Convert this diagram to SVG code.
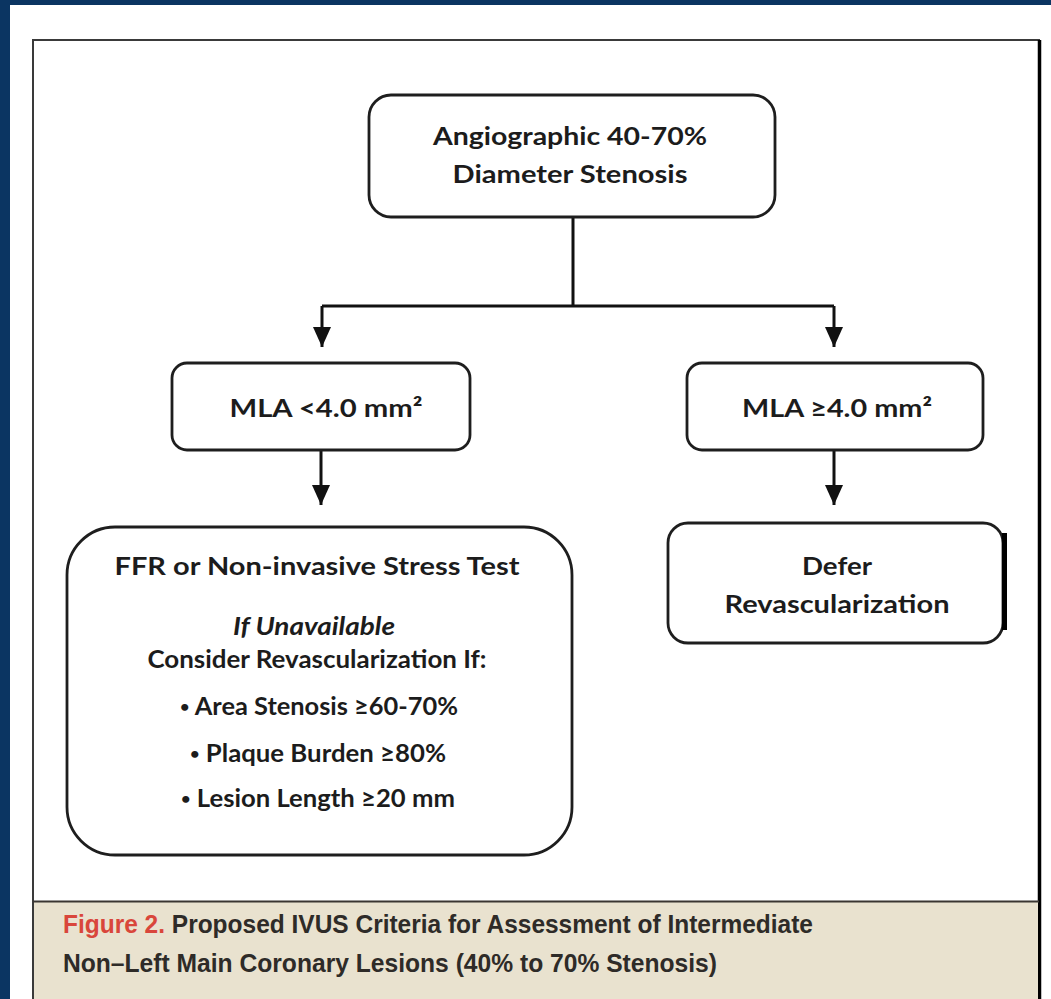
<svg xmlns="http://www.w3.org/2000/svg" width="1051" height="999" viewBox="0 0 1051 999">
<defs>
<style>
.box{fill:#fff;stroke:#1e1e1e;stroke-width:2.8}
.t{font-family:"Lato","Open Sans","Liberation Sans",sans-serif;font-weight:700;fill:#1c1c1c;text-anchor:middle;font-size:25px}
.ti{font-style:italic}
.b{font-size:16px}
.conn{stroke:#111;stroke-width:3;fill:none}
.cap{font-family:"Liberation Sans Narrow","Liberation Sans",Arial,sans-serif;font-weight:700;font-size:25px;fill:#2e2b28}
</style>
<marker id="ah" viewBox="0 0 20 18" refX="20" refY="9" markerWidth="20" markerHeight="18" markerUnits="userSpaceOnUse" orient="auto">
<path d="M0,0 L20,9 L0,18 Z" fill="#111"/>
</marker>
</defs>
<rect x="0" y="0" width="1051" height="999" fill="#0b3562"/>
<rect x="10" y="5" width="1041" height="994" fill="#fff"/>
<rect x="33" y="40" width="1006" height="961" fill="#fff" stroke="#3a3a3a" stroke-width="2"/>
<line x1="1039.5" y1="40" x2="1039.5" y2="999" stroke="#000" stroke-width="3.5"/>
<rect x="34" y="902" width="1004" height="97" fill="#e9e2cf"/>
<line x1="33" y1="901.5" x2="1039" y2="901.5" stroke="#3a3632" stroke-width="2"/>
<g id="caption">
<text class="cap" x="63" y="933" textLength="750" lengthAdjust="spacingAndGlyphs"><tspan fill="#d9463b">Figure 2.</tspan> Proposed IVUS Criteria for Assessment of Intermediate</text>
<text class="cap" x="63" y="972" textLength="654" lengthAdjust="spacingAndGlyphs">Non–Left Main Coronary Lesions (40% to 70% Stenosis)</text>
</g>
<g id="connectors">
<path class="conn" d="M573,217 V306 M322,306 H834"/>
<path class="conn" d="M322,306 V347" marker-end="url(#ah)"/>
<path class="conn" d="M834,306 V347" marker-end="url(#ah)"/>
<path class="conn" d="M321,450 V505" marker-end="url(#ah)"/>
<path class="conn" d="M834,450 V505" marker-end="url(#ah)"/>
</g>
<g id="n-angio">
<rect class="box" x="369" y="95" width="406" height="122" rx="22"/>
<text class="t" x="570" y="145" textLength="274" lengthAdjust="spacingAndGlyphs">Angiographic 40-70%</text>
<text class="t" x="570" y="183" textLength="235" lengthAdjust="spacingAndGlyphs">Diameter Stenosis</text>
</g>
<g id="n-mla-lt">
<rect class="box" x="172" y="363" width="298" height="87" rx="15"/>
<text class="t" x="326" y="417" textLength="193" lengthAdjust="spacingAndGlyphs">MLA &lt;4.0 mm²</text>
</g>
<g id="n-mla-ge">
<rect class="box" x="687" y="363" width="296" height="87" rx="15"/>
<text class="t" x="837" y="417" textLength="190" lengthAdjust="spacingAndGlyphs">MLA ≥4.0 mm²</text>
</g>
<g id="n-ffr">
<rect class="box" x="67" y="527" width="505" height="328" rx="48"/>
<text class="t" x="317" y="575" textLength="405" lengthAdjust="spacingAndGlyphs">FFR or Non-invasive Stress Test</text>
<text class="t ti" x="314" y="635" textLength="162" lengthAdjust="spacingAndGlyphs">If Unavailable</text>
<text class="t" x="317" y="668" textLength="339" lengthAdjust="spacingAndGlyphs">Consider Revascularization If:</text>
<text class="t" x="319" y="715" textLength="278" lengthAdjust="spacingAndGlyphs"><tspan class="b" dy="-3">•</tspan><tspan dy="3"> Area Stenosis ≥60-70%</tspan></text>
<text class="t" x="318" y="762" textLength="256" lengthAdjust="spacingAndGlyphs"><tspan class="b" dy="-3">•</tspan><tspan dy="3"> Plaque Burden ≥80%</tspan></text>
<text class="t" x="318" y="807" textLength="274" lengthAdjust="spacingAndGlyphs"><tspan class="b" dy="-3">•</tspan><tspan dy="3"> Lesion Length ≥20 mm</tspan></text>
</g>
<g id="n-defer">
<rect class="box" x="668" y="523" width="335" height="120" rx="20"/>
<rect x="1002" y="533" width="5" height="97" fill="#000"/>
<text class="t" x="837" y="575" textLength="70" lengthAdjust="spacingAndGlyphs">Defer</text>
<text class="t" x="837" y="613" textLength="225" lengthAdjust="spacingAndGlyphs">Revascularization</text>
</g>
</svg>
